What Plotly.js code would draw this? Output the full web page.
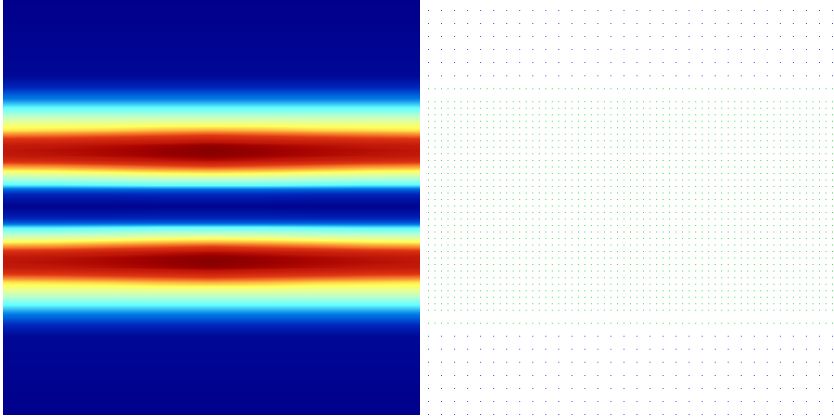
<!DOCTYPE html>
<html><head><meta charset="utf-8">
<script src="https://cdn.plot.ly/plotly-3.0.1.min.js"></script>
<style>html,body{margin:0;padding:0;background:#fff}#c{width:834px;height:419px}</style>
</head><body><div id="c"></div>
<script>
// band profile rows, top half of the field (the field is mirrored about its middle)
const rowY = [0,75,80,85,90,95,100,105,110,115,120,125,130,135,140,145,150,155,160,165,170,175,180,185,190,195,200,205];
const profEdge = [0,.03,.07,.12,.18,.24,.29,.35,.41,.48,.54,.59,.63,.73,.84,.91,.93,.92,.85,.72,.62,.53,.45,.36,.22,.12,.06,.02];
const profA    = [0,.03,.07,.12,.18,.24,.29,.35,.41,.48,.54,.59,.64,.74,.85,.925,.945,.935,.87,.73,.63,.54,.45,.36,.22,.12,.06,.02];
const profB    = [0,.03,.07,.12,.18,.24,.29,.35,.41,.48,.54,.59,.65,.76,.87,.945,.96,.955,.90,.76,.65,.55,.46,.37,.22,.12,.06,.02];
const profC    = [0,.03,.07,.12,.18,.24,.29,.35,.41,.48,.54,.60,.67,.78,.89,.965,.98,.975,.93,.79,.67,.57,.47,.38,.22,.13,.07,.02];
const profMid  = [0,.03,.07,.12,.18,.24,.29,.35,.41,.48,.54,.60,.68,.80,.91,.985,1.0,.995,.95,.82,.68,.58,.47,.38,.22,.13,.07,.02];
const colX = [3,56,108,160,211,263,316,368,420];
// sample grids on the right
const coarseX = [428.5,441.5,454.6,467.6,480.6,493.7,506.7,519.7,532.8,545.8,558.8,571.9,584.9,597.9,610.9,624,637,650,663.1,676.1,689.1,702.2,715.2,728.2,741.3,754.3,767.3,780.4,793.4,806.4,819.5,832.5];
const blueY = [10.5,23.5,36.6,49.6,62.6,75.7,336.3,349.3,362.3,375.4,388.4,401.4,414.5];
const fineX = [428.5,435,441.5,448,454.6,461.1,467.6,474.1,480.6,487.1,493.7,500.2,506.7,513.2,519.7,526.2,532.8,539.3,545.8,552.3,558.8,565.3,571.9,578.4,584.9,591.4,597.9,604.4,610.9,617.5,624,630.5,637,643.5,650,656.6,663.1,669.6,676.1,682.6,689.1,695.7,702.2,708.7,715.2,721.7,728.2,734.8,741.3,747.8,754.3,760.8,767.3,773.9,780.4,786.9,793.4,799.9,806.4,813,819.5,826,832.5];
const greenY = [88.7,101.7,108.2,114.7,121.3,127.8,134.3,140.8,147.3,153.8,160.4,166.9,173.4,179.9,186.4,192.9,199.5,206,212.5,219,225.5,232,238.6,245.1,251.6,258.1,264.6,271.1,277.7,284.2,290.7,297.2,303.7,310.2,323.3];

const paleJet = [[0,'rgb(0,0,139)'],[0.15,'rgb(0,40,190)'],[0.27,'rgb(0,120,230)'],[0.38,'rgb(100,255,255)'],[0.48,'rgb(180,255,210)'],[0.56,'rgb(230,255,150)'],[0.61,'rgb(255,255,90)'],[0.70,'rgb(250,150,50)'],[0.80,'rgb(225,55,20)'],[0.93,'rgb(190,22,8)'],[0.96,'rgb(170,5,0)'],[0.98,'rgb(150,0,0)'],[1,'rgb(135,0,0)']];

const allY = rowY.concat(rowY.slice().reverse().map(v => v === 0 ? 415 : 412 - v));
const idx = rowY.map((_, i) => i).concat(rowY.map((_, i) => rowY.length - 1 - i));
const z = idx.map(i => [profEdge[i],profA[i],profB[i],profC[i],profMid[i],profC[i],profB[i],profA[i],profEdge[i]]);

function cross(xs, ys){const X=[],Y=[];ys.forEach(y=>xs.forEach(x=>{X.push(x);Y.push(y)}));return [X,Y];}
const [bx,by] = cross(coarseX, blueY);
const [gx,gy] = cross(fineX, greenY);

const data = [
 {type:'heatmap',x:colX,y:allY,z:z,colorscale:paleJet,zmin:0,zmax:1,zsmooth:'best',showscale:false,hoverinfo:'skip',xaxis:'x',yaxis:'y'},
 {type:'scatter',mode:'markers',x:bx,y:by,xaxis:'x2',yaxis:'y2',marker:{symbol:'square',size:1,color:'rgb(60,80,230)'},hoverinfo:'skip'},
 {type:'scatter',mode:'markers',x:gx,y:gy,xaxis:'x2',yaxis:'y2',marker:{symbol:'square',size:1,color:'rgb(60,220,80)'},hoverinfo:'skip'}
];
const hidden = {visible:false,showgrid:false,zeroline:false,fixedrange:true};
const layout = {
 width:834,height:419,margin:{l:0,r:0,t:0,b:0},showlegend:false,
 paper_bgcolor:'#fff',plot_bgcolor:'rgba(0,0,0,0)',
 xaxis:Object.assign({},hidden,{domain:[3/834,420/834],range:[3,420]}),
 yaxis:Object.assign({},hidden,{domain:[4/419,1],range:[415,0]}),
 xaxis2:Object.assign({},hidden,{domain:[420/834,1],range:[420,834]}),
 yaxis2:Object.assign({},hidden,{domain:[0,1],range:[419,0]})
};
Plotly.newPlot('c',data,layout,{displayModeBar:false,staticPlot:true});
</script></body></html>
